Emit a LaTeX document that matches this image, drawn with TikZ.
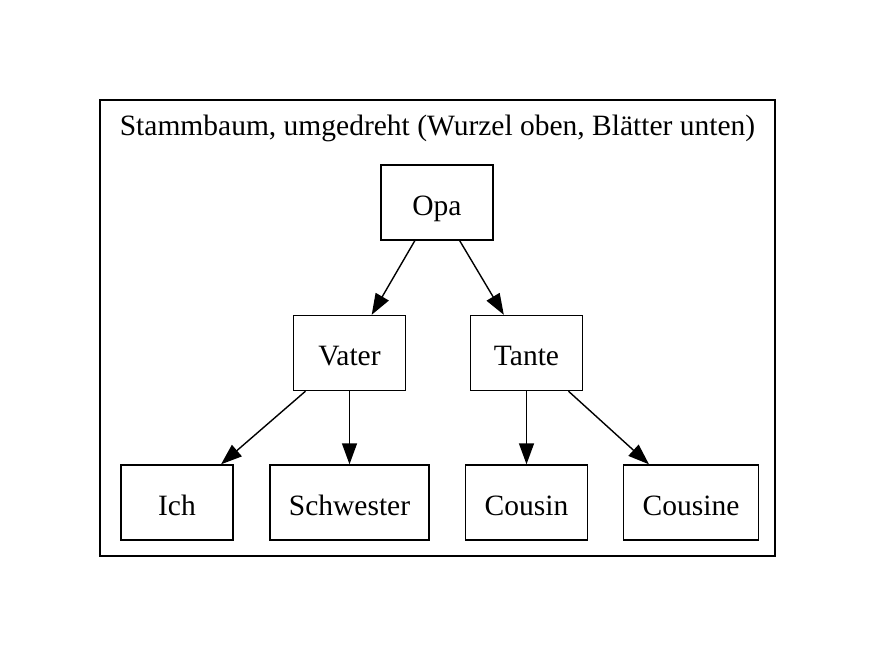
\documentclass[tikz,border=0pt]{standalone}
\usepackage{fontspec}
\setmainfont{Liberation Serif}
\usetikzlibrary{arrows.meta}
\begin{document}
\begin{tikzpicture}[x=1pt,y=-1pt,
  every node/.style={font=\fontsize{29.5}{34}\selectfont},
  box/.style={draw, line width=1.4pt, minimum height=75pt, minimum width=112pt, inner xsep=19pt, inner ysep=0pt, text height=25pt, text depth=0pt},
  edge/.style={line width=1.4pt, -{Triangle[length=21pt,width=15pt]}}]
\useasboundingbox (0,0) rectangle (880,657);
\draw[line width=1.4pt] (100,100) rectangle (775,556);
\node[anchor=base] (title) at (437.5,135) {Stammbaum, umgedreht (Wurzel oben, Blätter unten)};
\node[box] (opa) at (437,202.5) {Opa};
\node[box] (vater) at (349.5,353) {Vater};
\node[box] (tante) at (526.5,353) {Tante};
\node[box] (ich) at (177,502.5) {Ich};
\node[box] (schwester) at (349.5,502.5) {Schwester};
\node[box] (cousin) at (526.5,502.5) {Cousin};
\node[box] (cousine) at (691,502.5) {Cousine};
\draw[edge] (opa) -- (vater);
\draw[edge] (opa) -- (tante);
\draw[edge] (vater) -- (ich);
\draw[edge] (vater) -- (schwester);
\draw[edge] (tante) -- (cousin);
\draw[edge] (tante) -- (cousine);
\end{tikzpicture}
\end{document}
